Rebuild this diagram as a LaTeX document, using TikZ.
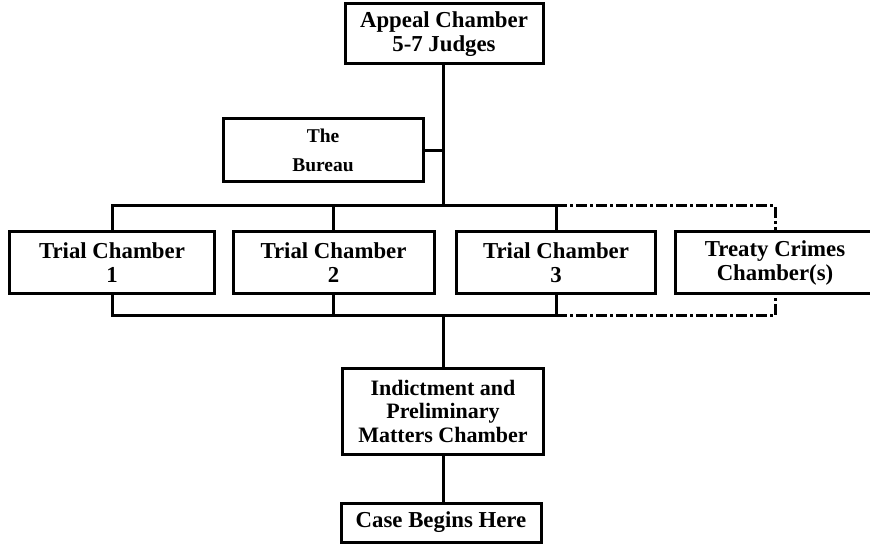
\documentclass[tikz,border=0pt]{standalone}
\usepackage{fontspec}
\setmainfont{Liberation Serif}
\begin{document}
\begin{tikzpicture}[x=1pt,y=-1pt,
  line width=3pt,
  box/.style={draw, line width=3pt, rectangle, inner sep=0pt, align=center,
    font=\fontsize{22.8}{24}\selectfont\bfseries},
  smallbox/.style={box, font=\fontsize{19.5}{29}\selectfont\bfseries},
  dashdot/.style={dash pattern=on 11pt off 3pt on 3pt off 3pt}]
\clip (0,0) rectangle (870,545);

% chambers
\node[box, minimum width=198pt, minimum height=60pt] (appeal) at (444,34)
  {Appeal Chamber\\5-7 Judges};
\node[smallbox, minimum width=200pt, minimum height=63pt] (bureau) at (323,150.5)
  {The\\Bureau};
\node[box, minimum width=205pt, minimum height=62pt] (t1) at (112,263)
  {Trial Chamber\\1};
\node[box, minimum width=201pt, minimum height=62pt] (t2) at (333.5,263)
  {Trial Chamber\\2};
\node[box, minimum width=199pt, minimum height=62pt] (t3) at (556,263)
  {Trial Chamber\\3};
\node[box, minimum width=200pt, minimum height=62pt] (treaty) at (775,263)
  {Treaty Crimes\\Chamber(s)};
\node[box, minimum width=201pt, minimum height=86pt,
      font=\fontsize{22}{23.5}\selectfont\bfseries] (indict) at (443,411)
  {Indictment and\\Preliminary\\Matters Chamber};
\node[box, minimum width=200pt, minimum height=39pt] (case) at (441,522.5)
  {Case Begins Here};

% junctions on the two buses
\coordinate (tj) at (443,206);
\coordinate (bj) at (443,316);

% trunk from the appeal chamber
\draw (appeal.south -| tj) -- (tj);
\draw (bureau.east) -- (bureau.east -| tj);

% upper bus
\draw (t1.north) |- (t3.north |- tj);
\draw (t2.north) -- (t2.north |- tj);
\draw (t3.north) -- (t3.north |- tj);
\draw[dashdot] (t3.north |- tj) -| (treaty.north);

% lower bus
\draw (t1.south) |- (t3.south |- bj);
\draw (t2.south) -- (t2.south |- bj);
\draw (t3.south) -- (t3.south |- bj);
\draw[dashdot] (t3.south |- bj) -| (treaty.south);

% down to the indictment chamber and the start of a case
\draw (bj) -- (indict.north);
\draw (indict.south) -- (indict.south |- case.north);
\end{tikzpicture}
\end{document}
